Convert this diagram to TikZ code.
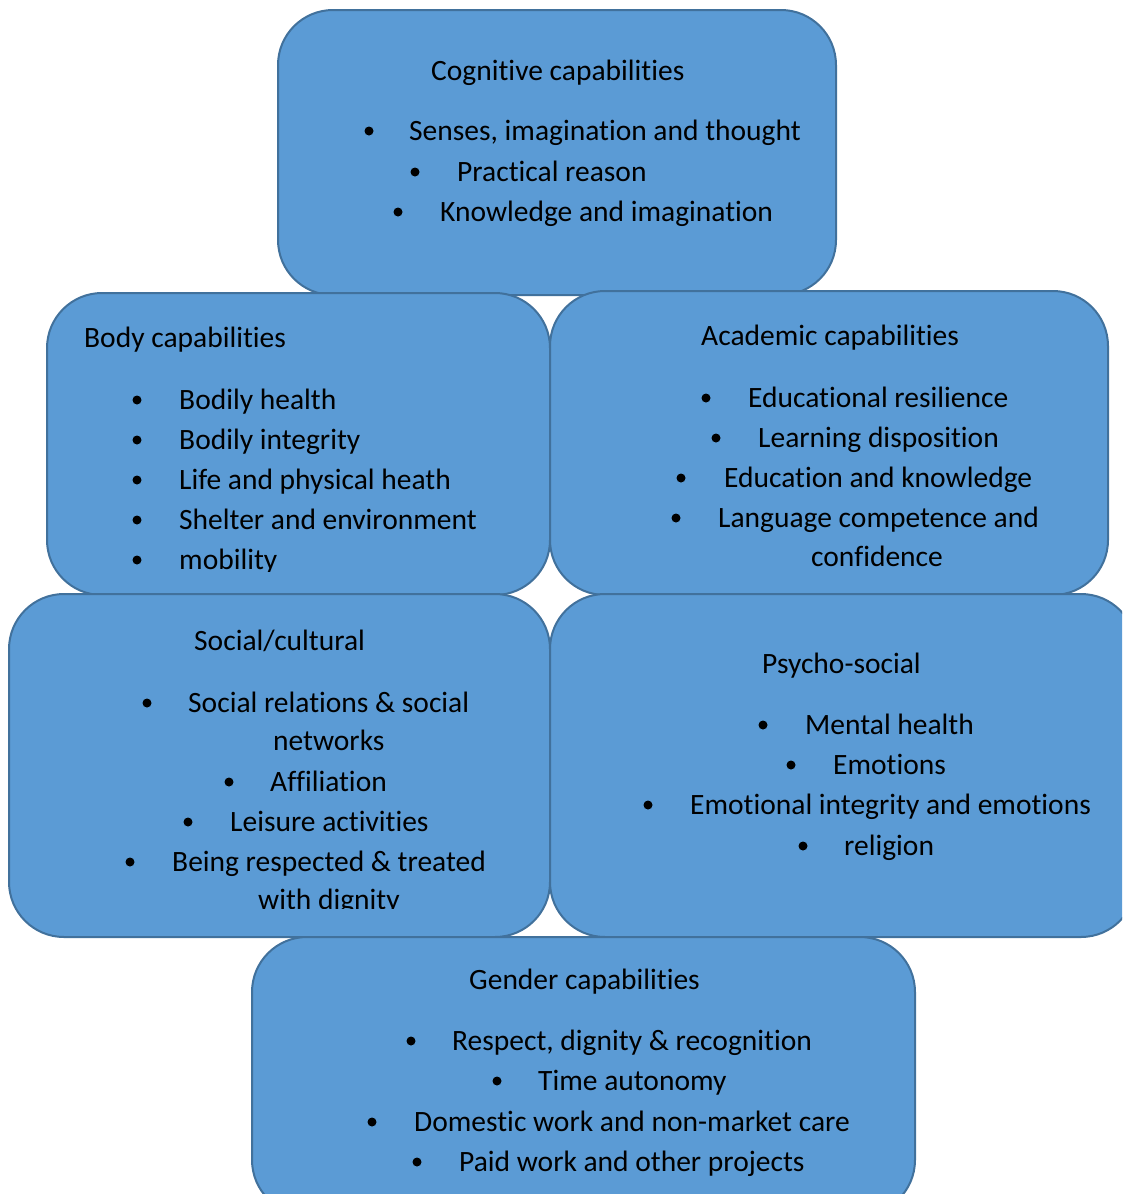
\documentclass[tikz,border=0pt]{standalone}
\usepackage{fontspec}
\setmainfont{Carlito}[Ligatures=NoCommon]
\definecolor{boxblue}{HTML}{5B9BD5}
\definecolor{boxedge}{HTML}{41719C}
\begin{document}
\begin{tikzpicture}[x=1pt,y=-1pt,
  capbox/.style={draw=boxedge, fill=boxblue, line width=2pt, rounded corners=55pt, inner sep=0pt, outer sep=0pt},
  txt/.style={anchor=base west, inner sep=0pt, font=\fontsize{29.5}{35}\selectfont},
  dot/.style={circle, fill=black, inner sep=0pt, minimum size=9pt}]
\useasboundingbox (0,0) rectangle (1122,1194);
\clip (0,0) rectangle (1122,1194);
\fill[white] (0,0) rectangle (1122,1194);

% boxes
\node[capbox, minimum width=558pt, minimum height=285pt] (cog) at (557,152.5) {};
\node[capbox, minimum width=503pt, minimum height=302pt] (body) at (298.5,444) {};
\node[capbox, minimum width=558pt, minimum height=304pt] (acad) at (829,443) {};
\node[capbox, minimum width=541pt, minimum height=343pt] (soc) at (279.5,765.5) {};
\node[capbox, minimum width=586pt, minimum height=343pt] (psy) at (843,765.5) {};
\node[capbox, minimum width=663pt, minimum height=278pt] (gen) at (583.5,1076) {};

% Cognitive
\node[txt] (cogT) at (431,80) {Cognitive capabilities};
\node[dot] (cogb1) at (369,131) {}; \node[txt] (cog1) at (409,140) {Senses, imagination and thought};
\node[dot] (cogb2) at (415,172) {}; \node[txt] (cog2) at (457,181) {Practical reason};
\node[dot] (cogb3) at (398,212) {}; \node[txt] (cog3) at (440,221) {Knowledge and imagination};

% Body
\node[txt] (bodyT) at (84,347) {Body capabilities};
\node[dot] (bodyb1) at (137,400) {}; \node[txt] (body1) at (179,409) {Bodily health};
\node[dot] (bodyb2) at (137,440) {}; \node[txt] (body2) at (179,449) {Bodily integrity};
\node[dot] (bodyb3) at (137,480) {}; \node[txt] (body3) at (179,489) {Life and physical heath};
\node[dot] (bodyb4) at (137,520) {}; \node[txt] (body4) at (179,529) {Shelter and environment};
\node[dot] (bodyb5) at (137,560) {};
\begin{scope}
\clip (0,0) rectangle (1122,571);
\node[txt] (body5) at (179,569) {mobility};
\end{scope}

% Academic
\node[txt] (acadT) at (701,345) {Academic capabilities};
\node[dot] (acadb1) at (706,398) {}; \node[txt] (acad1) at (748,407) {Educational resilience};
\node[dot] (acadb2) at (716,438) {}; \node[txt] (acad2) at (758,447) {Learning disposition};
\node[dot] (acadb3) at (681,478) {}; \node[txt] (acad3) at (724,487) {Education and knowledge};
\node[dot] (acadb4) at (676,518) {}; \node[txt] (acad4) at (718,527) {Language competence and};
\node[txt] (acad5) at (811,566) {confidence};

% Social
\node[txt] (socT) at (194,650) {Social/cultural};
\node[dot] (socb1) at (147,703) {}; \node[txt] (soc1) at (188,712) {Social relations \& social};
\node[txt] (soc1b) at (273,750) {networks};
\node[dot] (socb2) at (229,782) {}; \node[txt] (soc2) at (270,791) {Affiliation};
\node[dot] (socb3) at (188,822) {}; \node[txt] (soc3) at (230,831) {Leisure activities};
\node[dot] (socb4) at (130,862) {}; \node[txt] (soc4) at (172,871) {Being respected \& treated};
\begin{scope}
\clip (0,0) rectangle (1122,908);
\node[txt] (soc4b) at (258,909) {with dignity};
\end{scope}

% Psycho-social
\node[txt] (psyT) at (762,673) {Psycho-social};
\node[dot] (psyb1) at (763,725) {}; \node[txt] (psy1) at (805,734) {Mental health};
\node[dot] (psyb2) at (791,765) {}; \node[txt] (psy2) at (833,774) {Emotions};
\node[dot] (psyb3) at (648,805) {}; \node[txt] (psy3) at (690,814) {Emotional integrity and emotions};
\node[dot] (psyb4) at (803,846) {}; \node[txt] (psy4) at (844,855) {religion};

% Gender
\node[txt] (genT) at (469,989) {Gender capabilities};
\node[dot] (genb1) at (411,1041) {}; \node[txt] (gen1) at (452,1050) {Respect, dignity \& recognition};
\node[dot] (genb2) at (497,1081) {}; \node[txt] (gen2) at (538,1090) {Time autonomy};
\node[dot] (genb3) at (372,1122) {}; \node[txt] (gen3) at (414,1131) {Domestic work and non-market care};
\node[dot] (genb4) at (417,1162) {}; \node[txt] (gen4) at (459,1171) {Paid work and other projects};
\end{tikzpicture}
\end{document}
